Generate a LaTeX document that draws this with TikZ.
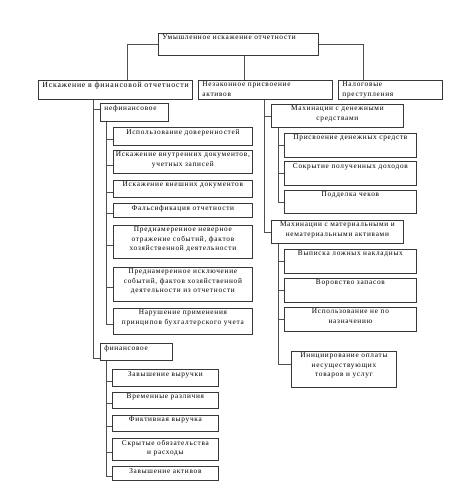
\documentclass[tikz,border=0pt]{standalone}
\usepackage{fontspec}
\setmainfont[LetterSpace=10]{Liberation Serif}
\definecolor{ln}{HTML}{505050}
\definecolor{bd}{HTML}{383838}
\tikzset{
  bx/.style={draw=bd, line width=0.8pt, inner sep=0pt, fill=white},
  cn/.style={draw=ln, line width=0.8pt},
}
% \bx{name}{x1}{y1}{x2}{y2}{align}{text}
\newcommand\bx[7]{\node[bx,anchor=north west] (#1) at (#2,#3)
  {\parbox[b][\dimexpr #5pt-#3pt\relax][t]{\dimexpr #4pt-#2pt\relax}{\vspace*{1.8pt}#6 #7\par}};}
\newcommand\Cc{\centering}
\newcommand\Ll{\raggedright\leftskip=4pt}
\begin{document}
\begin{tikzpicture}[x=1pt,y=-1pt,font=\fontsize{7.3}{9.2}\selectfont]
\useasboundingbox (0,0) rectangle (464,488);
% top
\bx{top}{158}{33}{318}{55}{\Ll}{Умышленное искажение отчетности}
\bx{b1}{38}{80}{192}{99}{\Ll}{\fontsize{7.8}{9.2}\selectfont Искажение в финансовой отчетности}
\bx{b2}{198}{80}{332}{99}{\Ll}{Незаконное присвоение\\активов}
\bx{b3}{338}{80}{442}{99}{\Ll}{Налоговые\\преступления}
% left
\bx{nf}{100}{103}{168}{121}{\Ll}{нефинансовое}
\bx{L1}{113}{127}{252}{145}{\Cc}{Использование доверенностей}
\bx{L2}{113}{150}{252}{173}{\Cc}{Искажение внутренних документов,\\учетных записей}
\bx{L3}{113}{180}{252}{197}{\Cc}{Искажение внешних документов}
\bx{L4}{113}{203}{252}{217}{\Cc}{Фальсификация отчетности}
\bx{L5}{113}{225}{252}{258}{\Cc}{Преднамеренное неверное\\отражение событий, фактов\\хозяйственной деятельности}
\bx{L6}{113}{267}{252}{301}{\Cc}{Преднамеренное исключение\\событий, фактов хозяйственной\\деятельности из отчетности}
\bx{L7}{113}{308}{252}{334}{\Cc}{Нарушение применения\\принципов бухгалтерского учета}
\bx{fn}{100}{343}{172}{360}{\Ll}{финансовое}
\bx{F1}{112}{369}{218}{386}{\Cc}{Завышение выручки}
\bx{F2}{112}{392}{218}{408}{\Cc}{Временные различия}
\bx{F3}{112}{415}{218}{431}{\Cc}{Фиктивная выручка}
\bx{F4}{112}{438}{218}{460}{\Cc}{Скрытые обязательства\\и расходы}
\bx{F5}{112}{466}{218}{480}{\Cc}{Завышение активов}
% right
\bx{M1}{271}{104}{403}{127}{\Cc}{Махинации с денежными\\средствами}
\bx{R1}{284}{133}{416}{157}{\Cc}{Присвоение денежных средств}
\bx{R2}{284}{161}{416}{185}{\Cc}{Сокрытие полученных доходов}
\bx{R3}{284}{190}{416}{213}{\Cc}{Подделка чеков}
\bx{M2}{271}{220}{403}{243}{\Cc}{Махинации с материальными и\\нематериальными активами}
\bx{S1}{284}{249}{416}{273}{\Cc}{Выписка ложных накладных}
\bx{S2}{284}{278}{416}{302}{\Cc}{Воровство запасов}
\bx{S3}{284}{307}{416}{331}{\Cc}{Использование не по\\назначению}
\bx{S4}{291}{351}{396}{387}{\Cc}{Инициирование оплаты\\несуществующих\\товаров и услуг}
% connectors top
\draw[cn] (top.west) -| ([xshift=89pt]b1.north west);
\draw[cn] (top.east) -| ([xshift=25pt]b3.north west);
\draw[cn] ([xshift=86pt]top.south west) -- ([xshift=46pt]b2.north west);
% main left spine
\foreach \c/\s in {nf/3, fn/-6}
  \draw[cn] ([xshift=55pt]b1.south west) |- ([yshift=\s pt]\c.west);
\foreach \c in {L1,L2,L3,L4,L5,L6,L7}
  \draw[cn] ([xshift=6pt]nf.south west) |- ([yshift=-3pt]\c.west);
\foreach \c in {F1,F2,F3,F4,F5}
  \draw[cn] ([xshift=6pt]fn.south west) |- ([yshift=-3pt]\c.west);
% right spines
\foreach \c in {M1,M2}
  \draw[cn] ([xshift=66pt]b2.south west) |- (\c.west);
\foreach \c in {R1,R2,R3}
  \draw[cn] ([xshift=7pt]M1.south west) |- (\c.west);
\foreach \c/\s in {S1/0,S2/0,S3/0,S4/5}
  \draw[cn] ([xshift=7pt]M2.south west) |- ([yshift=\s pt]\c.west);
\end{tikzpicture}
\end{document}
